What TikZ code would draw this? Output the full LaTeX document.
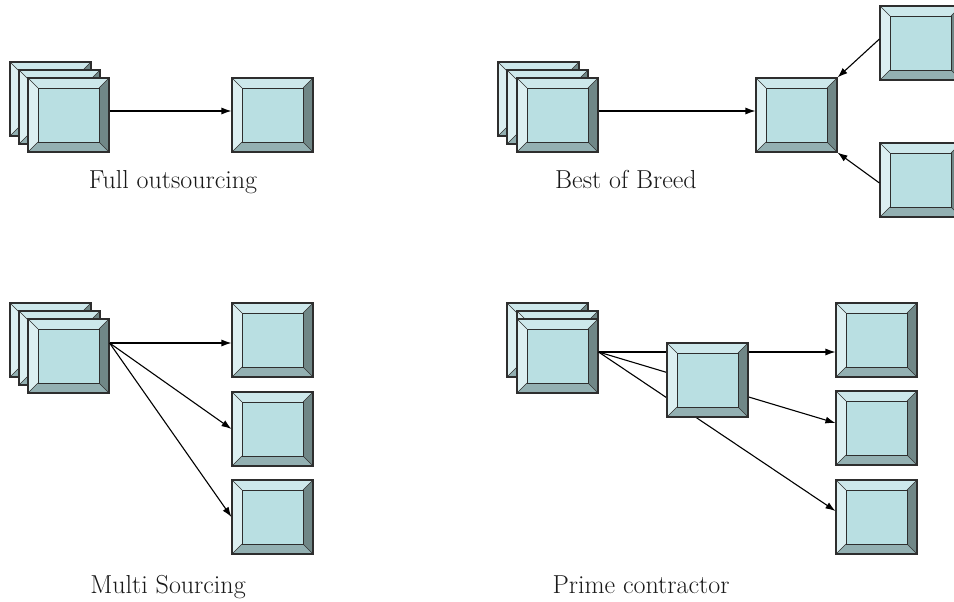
\documentclass[tikz,border=0pt]{standalone}
\usetikzlibrary{arrows.meta,calc}
\definecolor{bvface}{HTML}{B9DFE2}
\definecolor{bvtop}{HTML}{CDE8EB}
\definecolor{bvleft}{HTML}{DCEFF1}
\definecolor{bvright}{HTML}{708787}
\definecolor{bvbottom}{HTML}{93B0B2}
\definecolor{bvline}{HTML}{2E2E2E}
\newcommand\bevelpaint{%
  \path (path picture bounding box.north west) coordinate (bvA)
        (path picture bounding box.north east) coordinate (bvB)
        (path picture bounding box.south east) coordinate (bvC)
        (path picture bounding box.south west) coordinate (bvD);
  \path ($(bvA)+(10pt,-10pt)$) coordinate (bva)
        ($(bvB)+(-10pt,-10pt)$) coordinate (bvb)
        ($(bvC)+(-10pt,10pt)$) coordinate (bvc)
        ($(bvD)+(10pt,10pt)$) coordinate (bvd);
  \fill[bvtop] (bvA)--(bvB)--(bvb)--(bva)--cycle;
  \fill[bvleft] (bvA)--(bva)--(bvd)--(bvD)--cycle;
  \fill[bvright] (bvB)--(bvC)--(bvc)--(bvb)--cycle;
  \fill[bvbottom] (bvD)--(bvd)--(bvc)--(bvC)--cycle;
  \filldraw[fill=bvface,draw=bvline,line width=0.9pt] (bva) rectangle (bvc);
  \draw[bvline,line width=0.6pt] (bvA)--(bva) (bvB)--(bvb) (bvC)--(bvc) (bvD)--(bvd);
}
\tikzset{
  bevelbox/.style={rectangle, minimum width=81pt, minimum height=74pt, inner sep=0pt,
    draw=bvline, line width=1.1pt, path picture={\bevelpaint}},
  conn/.style={black, line width=1.1pt},
  arr/.style={conn, -{Latex[length=10pt,width=7pt]}},
  lbl/.style={anchor=base, inner sep=0pt, text=black!90, font=\fontsize{26}{30}\selectfont}
}
\begin{document}
\begin{tikzpicture}[x=1pt,y=-1pt]
\useasboundingbox (0,0) rectangle (954,602);
\fill[white] (0,0) rectangle (954,602);
% Full outsourcing
\node[bevelbox] (FOa) at (50.5,99) {};
\node[bevelbox] (FOb) at (59.5,107) {};
\node[bevelbox] (FOc) at (68.5,115) {};
\node[bevelbox] (FOt) at (272.5,115) {};
\draw[arr] ([yshift=4pt]FOc.east) -- ([yshift=4pt]FOt.west);
\node[lbl] (FOlbl) at (173,188) {Full outsourcing};
% Best of Breed
\node[bevelbox] (BBa) at (538.5,99) {};
\node[bevelbox] (BBb) at (547.5,107) {};
\node[bevelbox] (BBc) at (557.5,115) {};
\node[bevelbox] (BBm) at (796.5,115) {};
\node[bevelbox] (BBu) at (920.5,43) {};
\node[bevelbox] (BBl) at (920.5,180) {};
\draw[arr] ([yshift=4pt]BBc.east) -- ([yshift=4pt]BBm.west);
\draw[arr] ([yshift=4pt]BBu.west) -- (BBm.north east);
\draw[arr] ([yshift=-3pt]BBl.west) -- (BBm.south east);
\node[lbl] (BBlbl) at (626,188) {Best of Breed};
% Multi Sourcing
\node[bevelbox] (MSa) at (50.5,340) {};
\node[bevelbox] (MSb) at (59.5,348) {};
\node[bevelbox] (MSc) at (68.5,356) {};
\node[bevelbox] (MS1) at (272.5,340) {};
\node[bevelbox] (MS2) at (272.5,429) {};
\node[bevelbox] (MS3) at (272.5,517) {};
\coordinate (MSo) at ([yshift=13pt]MSc.east);
\draw[arr] (MSo) -- ([yshift=-3pt]MS1.west);
\draw[arr] (MSo) -- (MS2.west);
\draw[arr] (MSo) -- (MS3.west);
\node[lbl] (MSlbl) at (168,593) {Multi Sourcing};
% Prime contractor
\node[bevelbox] (PCa) at (547.5,340) {};
\node[bevelbox] (PCb) at (557.5,348) {};
\node[bevelbox] (PCc) at (557.5,356) {};
\node[bevelbox] (PC1) at (876.5,340) {};
\node[bevelbox] (PC2) at (876.5,428) {};
\node[bevelbox] (PC3) at (876.5,517) {};
\coordinate (PCo) at ([yshift=4pt]PCc.east);
\draw[arr] (PCo) -- ([yshift=-12pt]PC1.west);
\draw[arr] (PCo) -- ([yshift=5pt]PC2.west);
\draw[arr] (PCo) -- ([yshift=6pt]PC3.west);
\node[bevelbox] (PCm) at (707.5,380) {};
\node[lbl] (PClbl) at (641,593) {Prime contractor};
\end{tikzpicture}
\end{document}
